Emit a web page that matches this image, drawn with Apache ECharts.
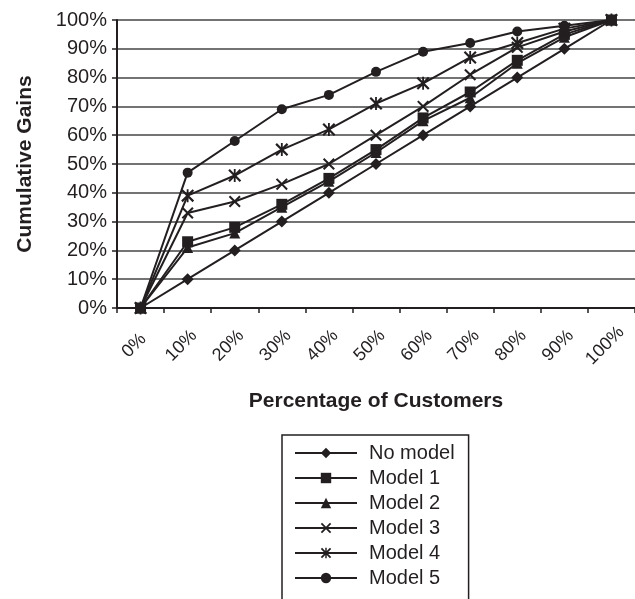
<!DOCTYPE html>
<html>
<head>
<meta charset="utf-8">
<script src="https://cdn.jsdelivr.net/npm/echarts@6/dist/echarts.min.js"></script>
<style>
html,body{margin:0;padding:0;background:#fff;}
#chart{width:635px;height:599px;}
</style>
</head>
<body>
<div id="chart"></div>
<script>
const categories = ['0%','10%','20%','30%','40%','50%','60%','70%','80%','90%','100%'];
const yTicks = [0,10,20,30,40,50,60,70,80,90,100];
const seriesNames = ['No model','Model 1','Model 2','Model 3','Model 4','Model 5'];
const noModel = [0,10,20,30,40,50,60,70,80,90,100];
const model1  = [0,23,28,36,45,55,66,75,86,95,100];
const model2  = [0,21,26,35,44,54,65,73,85,94,100];
const model3  = [0,33,37,43,50,60,70,81,90.5,96,100];
const model4  = [0,39,46,55,62,71,78,87,92,97,100];
const model5  = [0,47,58,69,74,82,89,92,96,98,100];

const INK = '#231f20';
const xSym = 'path://M0,1.2 L1.2,0 L5,3.8 L8.8,0 L10,1.2 L6.2,5 L10,8.8 L8.8,10 L5,6.2 L1.2,10 L0,8.8 L3.8,5 Z';
const starSym = 'path://M0,1.2 L1.2,0 L5,3.8 L8.8,0 L10,1.2 L6.2,5 L10,8.8 L8.8,10 L5,6.2 L1.2,10 L0,8.8 L3.8,5 Z M4.3,0 L5.7,0 L5.7,10 L4.3,10 Z';

const dataSets = [noModel, model1, model2, model3, model4, model5];
const symbols = ['diamond','rect','triangle',xSym,starSym,'circle'];
const sizes = [12,11,11,12,13,10];

const series = dataSets.map((d,i)=>({
  name: seriesNames[i],
  type: 'line',
  data: d,
  symbol: symbols[i],
  symbolSize: sizes[i],
  showAllSymbol: true,
  lineStyle: {color: INK, width: 2},
  itemStyle: {color: INK, borderWidth: 0},
  emphasis: {disabled: true},
  animation: false
}));

const chart = echarts.init(document.getElementById('chart'), null, {renderer: 'canvas'});
chart.setOption({
  animation: false,
  backgroundColor: '#fff',
  grid: {left: 117, top: 20, width: 521, height: 288, containLabel: false},
  xAxis: {
    type: 'category',
    data: categories,
    boundaryGap: true,
    name: 'Percentage of Customers',
    nameLocation: 'middle',
    nameGap: 83,
    nameTextStyle: {fontFamily: 'Liberation Sans', fontWeight: 'bold', fontSize: 21, color: INK},
    axisLine: {lineStyle: {color: INK, width: 2}},
    axisTick: {show: true, length: 5, lineStyle: {color: INK, width: 1.5}},
    axisLabel: {rotate: 45, margin: 44, align: 'center', verticalAlign: 'bottom',
      fontFamily: 'Liberation Sans', fontSize: 18, color: INK, interval: 0},
    splitLine: {show: false}
  },
  yAxis: {
    type: 'value',
    min: yTicks[0],
    max: yTicks[yTicks.length-1],
    interval: 10,
    name: 'Cumulative Gains',
    nameLocation: 'middle',
    nameGap: 81,
    nameRotate: 90,
    nameTextStyle: {fontFamily: 'Liberation Sans', fontWeight: 'bold', fontSize: 21, color: INK},
    axisLine: {show: true, lineStyle: {color: INK, width: 2}},
    axisTick: {show: true, length: 5, lineStyle: {color: INK, width: 1.5}},
    axisLabel: {formatter: '{value}%', margin: 10, fontFamily: 'Liberation Sans', fontSize: 20, color: INK},
    splitLine: {show: true, lineStyle: {color: '#444', width: 1.5}}
  },
  legend: {
    orient: 'vertical',
    left: 282,
    top: 435,
    height: 200,
    padding: [8, 14, 20, 12],
    itemWidth: 62,
    itemHeight: 13,
    itemGap: 5,
    borderColor: INK,
    borderWidth: 1.5,
    selectedMode: false,
    data: seriesNames,
    textStyle: {fontFamily: 'Liberation Sans', fontSize: 20, color: INK, lineHeight: 20, padding: [0,0,0,7]}
  },
  series: series
});
</script>
</body>
</html>
